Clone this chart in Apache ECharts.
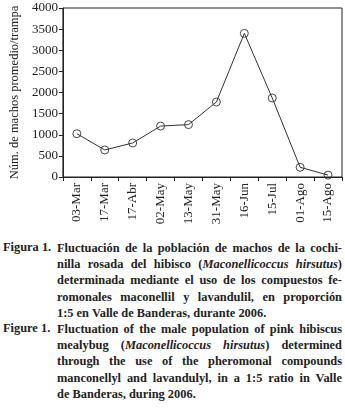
<!DOCTYPE html>
<html>
<head>
<meta charset="utf-8">
<script src="https://cdn.jsdelivr.net/npm/echarts@6/dist/echarts.min.js"></script>
<style>
  html, body { margin: 0; padding: 0; background: #fff; }
  #chart { width: 345px; height: 238px; }
  .caption { font-family: "Liberation Serif", serif; font-weight: bold; font-size: 12.4px; color: #222; position: relative; width: 345px; padding-top: 2px; }
  .fig { position: absolute; left: 3px; }
  .line { margin-left: 57px; width: 285px; height: 16.2px; line-height: 16.2px; text-align: justify; text-align-last: justify; white-space: nowrap; }
  .line.last { text-align-last: left; }
</style>
</head>
<body>
<div id="chart"></div>
<div class="caption" id="caption"></div>
<script>
const dates = ['03-Mar', '17-Mar', '17-Abr', '02-May', '13-May', '31-May', '16-Jun', '15-Jul', '01-Ago', '15-Ago']
const males = [1025, 640, 805, 1205, 1240, 1775, 3400, 1870, 230, 45]
const yTicks = [0, 500, 1000, 1500, 2000, 2500, 3000, 3500, 4000]

const captionEs = [
  'Fluctuación de la población de machos de la cochi-',
  'nilla rosada del hibisco (<i>Maconellicoccus hirsutus</i>)',
  'determinada mediante el uso de los compuestos fe-',
  'romonales maconellil y lavandulil, en proporción',
  '1:5 en Valle de Banderas, durante 2006.',
]
const captionEn = [
  'Fluctuation of the male population of pink hibiscus',
  'mealybug (<i>Maconellicoccus hirsutus</i>) determined',
  'through the use of the pheromonal compounds',
  'manconellyl and lavandulyl, in a 1:5 ratio in Valle',
  'de Banderas, during 2006.',
]

// caption block
const cap = document.getElementById('caption')
const addPara = (label, lines) => {
  const wrap = document.createElement('div')
  wrap.style.position = 'relative'
  const fig = document.createElement('span')
  fig.className = 'fig'
  fig.textContent = label
  wrap.appendChild(fig)
  lines.forEach((txt, i) => {
    const d = document.createElement('div')
    d.className = 'line' + (i === lines.length - 1 ? ' last' : '')
    d.innerHTML = txt
    wrap.appendChild(d)
  })
  cap.appendChild(wrap)
}
addPara('Figura 1.', captionEs)
addPara('Figure 1.', captionEn)

const chart = echarts.init(document.getElementById('chart'))
const serif = 'Liberation Serif'

chart.setOption({
  animation: false,
  textStyle: { fontFamily: serif },
  grid: {
    left: 49,
    right: 3,
    top: 8,
    bottom: 61,
    show: true,
    borderColor: '#222',
    borderWidth: 1,
  },
  xAxis: {
    type: 'category',
    data: dates,
    boundaryGap: true,
    axisLine: { lineStyle: { color: '#222', width: 1 } },
    axisTick: { show: true, length: 4, inside: false, lineStyle: { color: '#222' } },
    axisLabel: {
      rotate: 90,
      margin: 6,
      color: '#222',
      fontFamily: serif,
      fontSize: 13,
      interval: 0,
    },
  },
  yAxis: {
    type: 'value',
    min: yTicks[0],
    max: yTicks[yTicks.length - 1],
    interval: 500,
    name: 'Núm. de machos promedio/trampa',
    nameLocation: 'middle',
    nameRotate: 90,
    nameGap: 39,
    nameTextStyle: { fontFamily: serif, fontSize: 12.5, color: '#222' },
    splitLine: { show: false },
    axisLine: { show: true, lineStyle: { color: '#222', width: 1 } },
    axisTick: { show: true, length: 4, inside: false, lineStyle: { color: '#222' } },
    axisLabel: {
      margin: 5,
      color: '#222',
      fontFamily: serif,
      fontSize: 13,
      formatter: (v) => String(v),
    },
  },
  series: [
    {
      type: 'line',
      data: males,
      symbol: 'circle',
      symbolSize: 8,
      lineStyle: { color: '#333', width: 1 },
      itemStyle: { color: 'rgba(255,255,255,0)', borderColor: '#333', borderWidth: 0.9 },
    },
  ],
})
</script>
</body>
</html>
